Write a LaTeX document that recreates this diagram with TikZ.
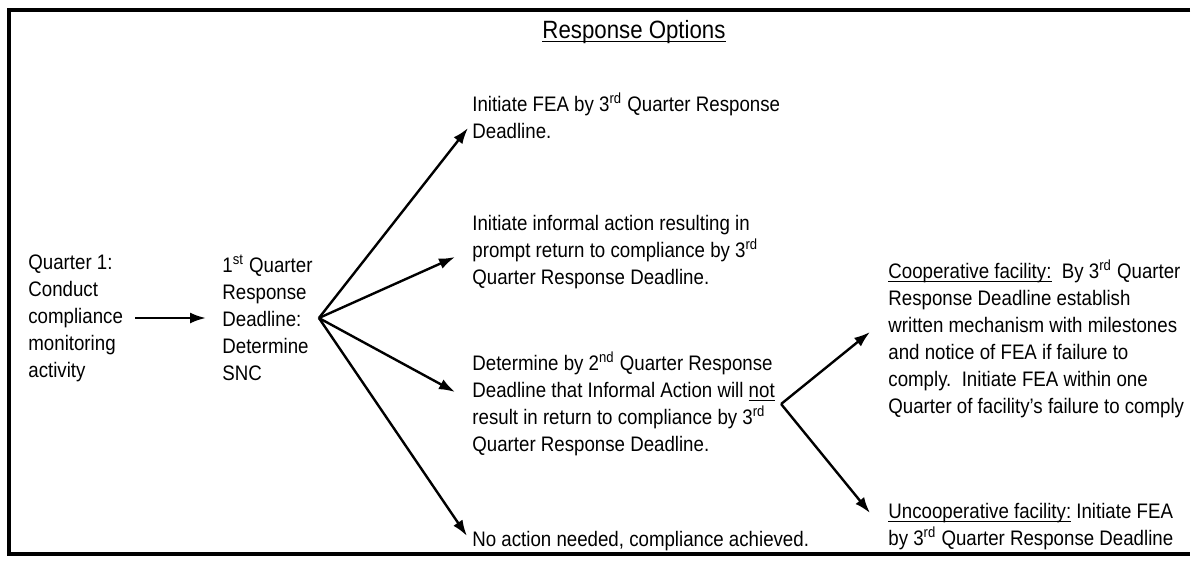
\documentclass[tikz,border=0pt]{standalone}
\usepackage{fontspec}
\setmainfont{Liberation Sans}[FakeStretch=0.89]
\usepackage{tikz}
\usetikzlibrary{positioning,arrows.meta}

% underline set close to the baseline
\newcommand{\uln}[1]{\setbox0\hbox{#1}\rlap{\rule[-1.6pt]{\wd0}{0.55pt}}\box0\relax}

\begin{document}
\begin{tikzpicture}[x=0.5pt, y=-0.5pt,
    every node/.style={inner sep=0pt, align=left, anchor=west,
        font=\fontsize{10.5}{13.5}\selectfont},
    heading/.style={anchor=center, font=\fontsize{12.5}{15}\selectfont},
    flow/.style={-{Latex[length=8pt,width=5.5pt]}, line width=1.2pt},
    frameline/.style={line width=1.8pt}]

    \useasboundingbox (0,0) rectangle (1194,563);

    % Frame
    \draw[frameline] (1190,10) -- (9,10) -- (9,554) -- (1190,554);

    % Nodes
    \node[heading] (title) at (634,32) {\uln{Response Options}};
    \node (q1) at (28,318) {Quarter 1:\\Conduct\\compliance\\monitoring\\activity};
    \node (sd) at (222,318) {1\textsuperscript{st} Quarter\\Response\\Deadline:\\Determine\\SNC};
    \node (fea) at (472,116) {Initiate FEA by 3\textsuperscript{rd} Quarter Response\\Deadline.};
    \node (informal) at (472,252) {Initiate informal action resulting in\\prompt return to compliance by 3\textsuperscript{rd}\\Quarter Response Deadline.};
    \node (notret) at (472,404) {Determine by 2\textsuperscript{nd} Quarter Response\\Deadline that Informal Action will \uln{not}\\result in return to compliance by 3\textsuperscript{rd}\\Quarter Response Deadline.};
    \node (noaction) at (472,541) {No action needed, compliance achieved.};
    \node (coop) at (888,339) {\uln{Cooperative facility:}\ \ By 3\textsuperscript{rd} Quarter\\Response Deadline establish\\written mechanism with milestones\\and notice of FEA if failure to\\comply.\ \ Initiate FEA within one\\Quarter of facility's failure to comply};
    \node (uncoop) at (888,527) {\uln{Uncooperative facility:} Initiate FEA\\by 3\textsuperscript{rd} Quarter Response Deadline};

    \coordinate (fan) at ([xshift=3pt]sd.east);
    \coordinate (fork) at ([xshift=3pt]notret.east);

    % Edges
    \draw[flow, shorten <=6pt, shorten >=8pt] (q1.east) -- (q1.east -| sd.west);
    \draw[flow] (fan) -- ([xshift=-2pt,yshift=-6pt]fea.west);
    \draw[flow] (fan) -- ([xshift=-8.5pt,yshift=-2.5pt]informal.west);
    \draw[flow] (fan) -- ([xshift=-8.5pt,yshift=6pt]notret.west);
    \draw[flow] (fan) -- ([xshift=-2.5pt,yshift=2.5pt]noaction.west);
    \draw[flow] (fork) -- ([xshift=-9pt,yshift=3.5pt]coop.west);
    \draw[flow] (fork) -- ([xshift=-9pt,yshift=7pt]uncoop.west);
\end{tikzpicture}
\end{document}
